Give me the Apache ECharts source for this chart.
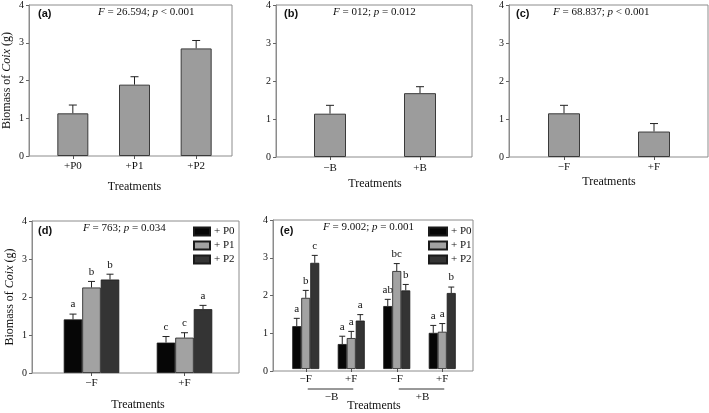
<!DOCTYPE html>
<html><head><meta charset="utf-8">
<script src="https://cdn.jsdelivr.net/npm/echarts@6/dist/echarts.min.js"></script>
<style>html,body{margin:0;padding:0;background:#fff}#c{width:709px;height:413px}</style>
</head><body><div id="c"></div>
<script>
// ---------- data ----------
const catsA = ['+P0', '+P1', '+P2'];
const meanA = [1.13, 1.89, 2.85];
const seA = [0.22, 0.21, 0.21];

const catsB = ['\u2212B', '+B'];
const meanB = [1.14, 1.68];
const seB = [0.22, 0.17];

const catsC = ['\u2212F', '+F'];
const meanC = [1.15, 0.67];
const seC = [0.21, 0.21];

const catsD = ['\u2212F', '+F'];
const dP0 = [1.41, 0.80], dP0se = [0.14, 0.16], dP0let = ['a', 'c'];
const dP1 = [2.25, 0.93], dP1se = [0.16, 0.13], dP1let = ['b', 'c'];
const dP2 = [2.46, 1.68], dP2se = [0.14, 0.10], dP2let = ['b', 'a'];

const catsE = ['\u2212F', '+F', '\u2212F', '+F'];
const eP0 = [1.15, 0.67, 1.69, 0.97], eP0se = [0.21, 0.21, 0.18, 0.20], eP0let = ['a', 'a', 'ab', 'a'];
const eP1 = [1.91, 0.83, 2.63, 1.00], eP1se = [0.20, 0.18, 0.20, 0.22], eP1let = ['b', 'a', 'bc', 'a'];
const eP2 = [2.85, 1.30, 2.11, 2.04], eP2se = [0.20, 0.16, 0.16, 0.16], eP2let = ['c', 'a', 'b', 'b'];
const groupsE = ['\u2212B', '+B'];

const seriesNames = ['+ P0', '+ P1', '+ P2'];
const yTicks = [0, 1, 2, 3, 4];

// ---------- styling ----------
const SERIF = '"Liberation Serif", "Times New Roman", serif';
const SANS = '"Liberation Sans", Arial, sans-serif';
const TXT = '#111';
const FRAME = '#8c8c8c';
const groupColors = ['#060606', '#a2a2a2', '#343434'];

const grids = [], xAxes = [], yAxes = [], series = [];

function addPanel(p) {
  const oi = grids.length;
  grids.push({left: p.l, top: p.t, width: p.w, height: p.h, show: true,
    borderColor: FRAME, borderWidth: 1, backgroundColor: 'transparent'});
  xAxes.push({gridIndex: oi, type: 'value', show: false, min: 0, max: 1});
  const ya = {gridIndex: oi, type: 'value', min: yTicks[0], max: yTicks[yTicks.length - 1], interval: 1,
    axisLine: {show: true, lineStyle: {color: FRAME, width: 1}},
    axisTick: {show: true, length: 3, lineStyle: {color: '#666'}},
    axisLabel: {fontSize: 10, fontFamily: SERIF, color: TXT, margin: 5},
    splitLine: {show: false}};
  if (p.yname) {
    ya.name = '{n|Biomass of }{i|Coix}{n| (g)}';
    ya.nameLocation = 'middle';
    ya.nameGap = 16;
    ya.nameTextStyle = {rich: {
      n: {fontFamily: SERIF, fontSize: 12, color: TXT},
      i: {fontFamily: SERIF, fontSize: 12, color: TXT, fontStyle: 'italic'}}};
  }
  yAxes.push(ya);
  const ii = grids.length;
  grids.push({left: p.il, top: p.t, width: p.iw, height: p.h, show: false});
  xAxes.push({gridIndex: ii, type: 'category', data: p.cats,
    axisLine: {show: false},
    axisTick: {show: true, alignWithLabel: true, length: 3, lineStyle: {color: '#555'}},
    axisLabel: {fontSize: 11, fontFamily: SERIF, color: TXT, margin: p.lm},
    name: 'Treatments', nameLocation: 'middle', nameGap: p.ng,
    nameTextStyle: {fontFamily: SERIF, fontSize: 12, color: TXT}});
  yAxes.push({gridIndex: ii, type: 'value', min: yTicks[0], max: yTicks[yTicks.length - 1], interval: 1, show: false});
  return ii;
}

function errRender(off, cap, letters) {
  return function (params, api) {
    const i = api.value(0);
    const base = api.coord([i, api.value(1)]);
    const top = api.coord([i, api.value(2)]);
    const x = base[0] + off;
    const ch = [
      {type: 'line', shape: {x1: x, y1: base[1], x2: x, y2: top[1]}, style: {stroke: '#222', lineWidth: 1}},
      {type: 'line', shape: {x1: x - cap / 2, y1: top[1], x2: x + cap / 2, y2: top[1]}, style: {stroke: '#222', lineWidth: 1}}
    ];
    if (letters) ch.push({type: 'text', style: {text: letters[params.dataIndex], x: x, y: top[1] - 4,
      textAlign: 'center', textVerticalAlign: 'bottom', font: '11px ' + SERIF, fill: TXT}});
    return {type: 'group', children: ch};
  };
}

function singleBars(ai, means, ses, bw, cap) {
  series.push({type: 'bar', name: 'single' + ai, xAxisIndex: ai, yAxisIndex: ai, data: means, barWidth: bw,
    itemStyle: {color: '#9c9c9c', borderColor: '#3a3a3a', borderWidth: 1}, silent: true});
  series.push({type: 'custom', name: 'err' + ai, xAxisIndex: ai, yAxisIndex: ai, clip: false,
    data: means.map((m, i) => [i, m, m + ses[i]]), renderItem: errRender(0, cap, null), silent: true});
}

function groupBars(ai, sets, bw, cap) {
  sets.forEach((s, k) => {
    series.push({type: 'bar', name: seriesNames[k], xAxisIndex: ai, yAxisIndex: ai, data: s.m, barWidth: bw,
      barGap: '0%', itemStyle: {color: groupColors[k], borderColor: '#1a1a1a', borderWidth: 0.8}, silent: true});
  });
  sets.forEach((s, k) => {
    series.push({type: 'custom', name: 'err' + ai + '_' + k, xAxisIndex: ai, yAxisIndex: ai, clip: false,
      data: s.m.map((m, i) => [i, m, m + s.se[i]]), renderItem: errRender((k - 1) * bw, cap, s.let), silent: true});
  });
}

// panels
const aI = addPanel({l: 29, t: 5, w: 203, h: 151, il: 42, iw: 185, cats: catsA, lm: 5, ng: 25, yname: true});
const bI = addPanel({l: 276, t: 5, w: 196, h: 152, il: 285, iw: 180, cats: catsB, lm: 6, ng: 21});
const cI = addPanel({l: 509, t: 5, w: 199, h: 152, il: 519, iw: 180, cats: catsC, lm: 5, ng: 19});
const dI = addPanel({l: 32, t: 221, w: 207, h: 152, il: 45, iw: 186, cats: catsD, lm: 5, ng: 26, yname: true});
const eI = addPanel({l: 273, t: 220, w: 200, h: 151, il: 283, iw: 182, cats: catsE, lm: 5, ng: 31});

singleBars(aI, meanA, seA, 31, 8);
singleBars(bI, meanB, seB, 32, 8);
singleBars(cI, meanC, seC, 32, 8);
groupBars(dI, [{m: dP0, se: dP0se, let: dP0let}, {m: dP1, se: dP1se, let: dP1let}, {m: dP2, se: dP2se, let: dP2let}], 18.5, 7);
groupBars(eI, [{m: eP0, se: eP0se, let: eP0let}, {m: eP1, se: eP1se, let: eP1let}, {m: eP2, se: eP2se, let: eP2let}], 9, 6);

// group labels under panel (e)
series.push({type: 'custom', name: 'groupsE', xAxisIndex: eI, yAxisIndex: eI, clip: false, silent: true,
  data: [[0, 1], [2, 3]],
  renderItem: function (params, api) {
    const a = api.coord([api.value(0), 0]);
    const b = api.coord([api.value(1), 0]);
    const y = a[1] + 20;
    return {type: 'group', children: [
      {type: 'line', shape: {x1: a[0] + 2, y1: y, x2: b[0] + 2, y2: y}, style: {stroke: '#333', lineWidth: 1}},
      {type: 'text', style: {text: groupsE[params.dataIndex], x: (a[0] + b[0]) / 2 + 3, y: y + 3,
        textAlign: 'center', textVerticalAlign: 'top', font: '11px ' + SERIF, fill: TXT}}
    ]};
  }});

const rich = {i: {fontFamily: SERIF, fontSize: 11, color: TXT, fontStyle: 'italic'}};
function ttl(text, left, top, bold) {
  return {text: text, left: left, top: top, padding: 0,
    textStyle: bold ? {fontFamily: SANS, fontWeight: 'bold', fontSize: 11, color: TXT}
                    : {fontFamily: SERIF, fontWeight: 'normal', fontSize: 11, color: TXT, rich: rich}};
}
const titles = [
  ttl('(a)', 38, 8, true), ttl('{i|F} = 26.594; {i|p} < 0.001', 98, 7),
  ttl('(b)', 284, 8, true), ttl('{i|F} = 012; {i|p} = 0.012', 333, 7),
  ttl('(c)', 516, 8, true), ttl('{i|F} = 68.837; {i|p} < 0.001', 553, 7),
  ttl('(d)', 38, 225, true), ttl('{i|F} = 763; {i|p} = 0.034', 83, 223),
  ttl('(e)', 280, 225, true), ttl('{i|F} = 9.002; {i|p} = 0.001', 323, 222)
];

function leg(left, w) {
  return {left: left, top: 226, orient: 'vertical', data: seriesNames, itemWidth: w, itemHeight: 8, itemGap: 3,
    icon: 'rect', selectedMode: false, padding: 0,
    textStyle: {fontFamily: SERIF, fontSize: 11, color: TXT, padding: [0, 0, 0, -1]}};
}

const chart = echarts.init(document.getElementById('c'), null, {renderer: 'canvas'});
chart.setOption({
  animation: false,
  backgroundColor: '#fff',
  title: titles,
  legend: [leg(193, 16), leg(428, 18)],
  grid: grids, xAxis: xAxes, yAxis: yAxes, series: series
});
</script></body></html>
